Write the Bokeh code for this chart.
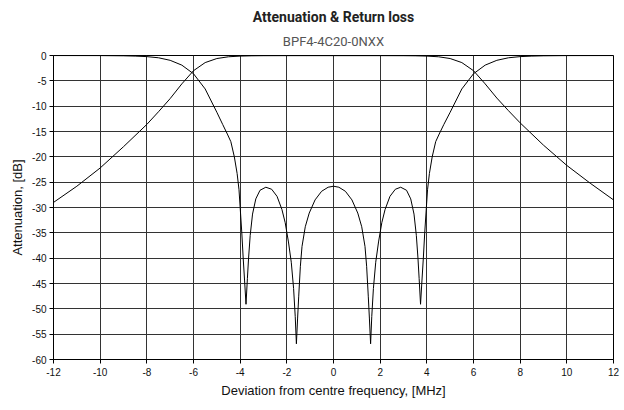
from bokeh.plotting import figure
from bokeh.models import Range1d, FixedTicker, Title
from bokeh.embed import file_html
from bokeh.resources import INLINE

title_text = "Attenuation & Return loss"
subtitle_text = "BPF4-4C20-0NXX"
x_label = "Deviation from centre frequency, [MHz]"
y_label = "Attenuation, [dB]"

x_ticks = [-12, -10, -8, -6, -4, -2, 0, 2, 4, 6, 8, 10, 12]
y_ticks = [-60, -55, -50, -45, -40, -35, -30, -25, -20, -15, -10, -5, 0]

# Attenuation (transmission) curve
atten_x = [-12, -11, -10, -9, -8, -7.5, -7, -6.5, -6, -5.5, -5, -4.5, -4, -3.5, -3, -2, 0,
           2, 3, 3.5, 4, 4.5, 5, 5.5, 6, 6.5, 7, 7.5, 8, 9, 10, 11, 12]
atten_db = [-29.0, -25.8, -22.2, -18.0, -13.6, -11.1, -8.5, -5.6, -3.0, -1.4, -0.6, -0.25, -0.12, -0.06, -0.04, -0.03, -0.03,
            -0.03, -0.04, -0.06, -0.12, -0.25, -0.6, -1.4, -3.0, -5.6, -8.4, -10.9, -13.3, -17.7, -21.7, -25.2, -28.5]

# Return loss curve
rl_x = [-12, -10, -9, -8.5, -8, -7.5, -7, -6.5, -6, -5.5, -5, -4.75, -4.55, -4.4, -4.25, -4.13, -4.05,
        -4.0, -3.93, -3.87, -3.81, -3.75, -3.69, -3.64, -3.57, -3.47, -3.33, -3.15, -2.9, -2.65, -2.42,
        -2.21, -2.07, -1.93, -1.81, -1.71, -1.64, -1.59, -1.54, -1.49, -1.42, -1.35, -1.21, -1.04, -0.79,
        -0.51, -0.23, 0,
        0.23, 0.51, 0.79, 1.04, 1.21, 1.35, 1.42, 1.49, 1.54, 1.59, 1.64, 1.71, 1.81, 1.93, 2.07,
        2.21, 2.42, 2.65, 2.88, 3.13, 3.31, 3.45, 3.55, 3.62, 3.67, 3.73, 3.79, 3.85, 3.91, 3.98,
        4.03, 4.11, 4.23, 4.38, 4.53, 4.73, 5, 5.5, 6, 6.5, 7, 7.5, 8, 8.5, 9, 10, 12]
rl_db = [-0.01, -0.02, -0.06, -0.12, -0.22, -0.45, -0.95, -1.9, -3.6, -6.6, -11.2, -13.6, -15.5, -17.0, -20.0, -23.3, -26.5,
         -30.0, -35.0, -40.0, -44.5, -49.1, -44.0, -40.0, -35.5, -31.3, -28.3, -26.6, -26.0, -26.4, -27.8,
         -30.4, -33.0, -36.8, -40.8, -46.0, -51.5, -56.9, -52.0, -47.5, -41.6, -37.7, -33.8, -31.1, -28.5,
         -26.8, -26.0, -25.8,
         -26.0, -26.8, -28.5, -31.1, -33.8, -37.7, -41.6, -47.5, -52.0, -56.9, -51.5, -46.0, -40.8, -36.8, -33.0,
         -30.4, -27.8, -26.4, -26.0, -26.6, -28.3, -31.3, -35.5, -40.0, -44.0, -49.1, -44.5, -40.0, -35.0, -30.0,
         -26.5, -23.3, -20.0, -17.0, -15.5, -13.6, -11.2, -6.6, -3.6, -1.9, -0.95, -0.45, -0.22, -0.12, -0.06, -0.02, -0.01]

p = figure(frame_width=560, frame_height=304,
           x_range=Range1d(-12, 12), y_range=Range1d(-60, 0),
           output_backend="svg", toolbar_location=None,
           min_border_left=53, min_border_right=8, min_border_top=55, min_border_bottom=6)

p.add_layout(Title(text=subtitle_text, align="center", text_font="Roboto",
                   text_font_size="13px", text_font_style="normal", text_color="#555555",
                   standoff=14), "above")
p.add_layout(Title(text=title_text, align="center", text_font="Roboto",
                   text_font_size="14px", text_font_style="bold", text_color="#222222",
                   standoff=0), "above")

p.line(atten_x, atten_db, line_color="black", line_width=1)
p.line(rl_x, rl_db, line_color="black", line_width=1)

p.background_fill_color = "white"
p.border_fill_color = "white"
p.outline_line_color = "black"
p.outline_line_width = 1

for ax, ticks in ((p.xaxis[0], x_ticks), (p.yaxis[0], y_ticks)):
    ax.ticker = FixedTicker(ticks=ticks)
    ax.major_label_overrides = {t: str(t) for t in ticks}
    ax.minor_tick_line_color = None
    ax.major_tick_in = 0
    ax.major_tick_out = 4
    ax.major_tick_line_color = "black"
    ax.axis_line_color = "black"
    ax.major_label_text_font = "Liberation Sans"
    ax.major_label_text_font_size = "10px"
    ax.major_label_text_color = "#111111"
    ax.axis_label_text_font = "Liberation Sans"
    ax.axis_label_text_font_size = "13px"
    ax.axis_label_text_font_style = "normal"
    ax.axis_label_text_color = "#111111"

p.xaxis.axis_label = x_label
p.yaxis.axis_label = y_label
p.xaxis.major_label_standoff = 4
p.xaxis.axis_label_standoff = 4
p.yaxis.major_label_standoff = 3
p.yaxis.axis_label_standoff = 4

p.xgrid.ticker = FixedTicker(ticks=x_ticks)
p.ygrid.ticker = FixedTicker(ticks=y_ticks)
for g in (p.xgrid[0], p.ygrid[0]):
    g.grid_line_color = "#333333"
    g.grid_line_width = 1

open("out.html", "w").write(file_html(p, INLINE))
